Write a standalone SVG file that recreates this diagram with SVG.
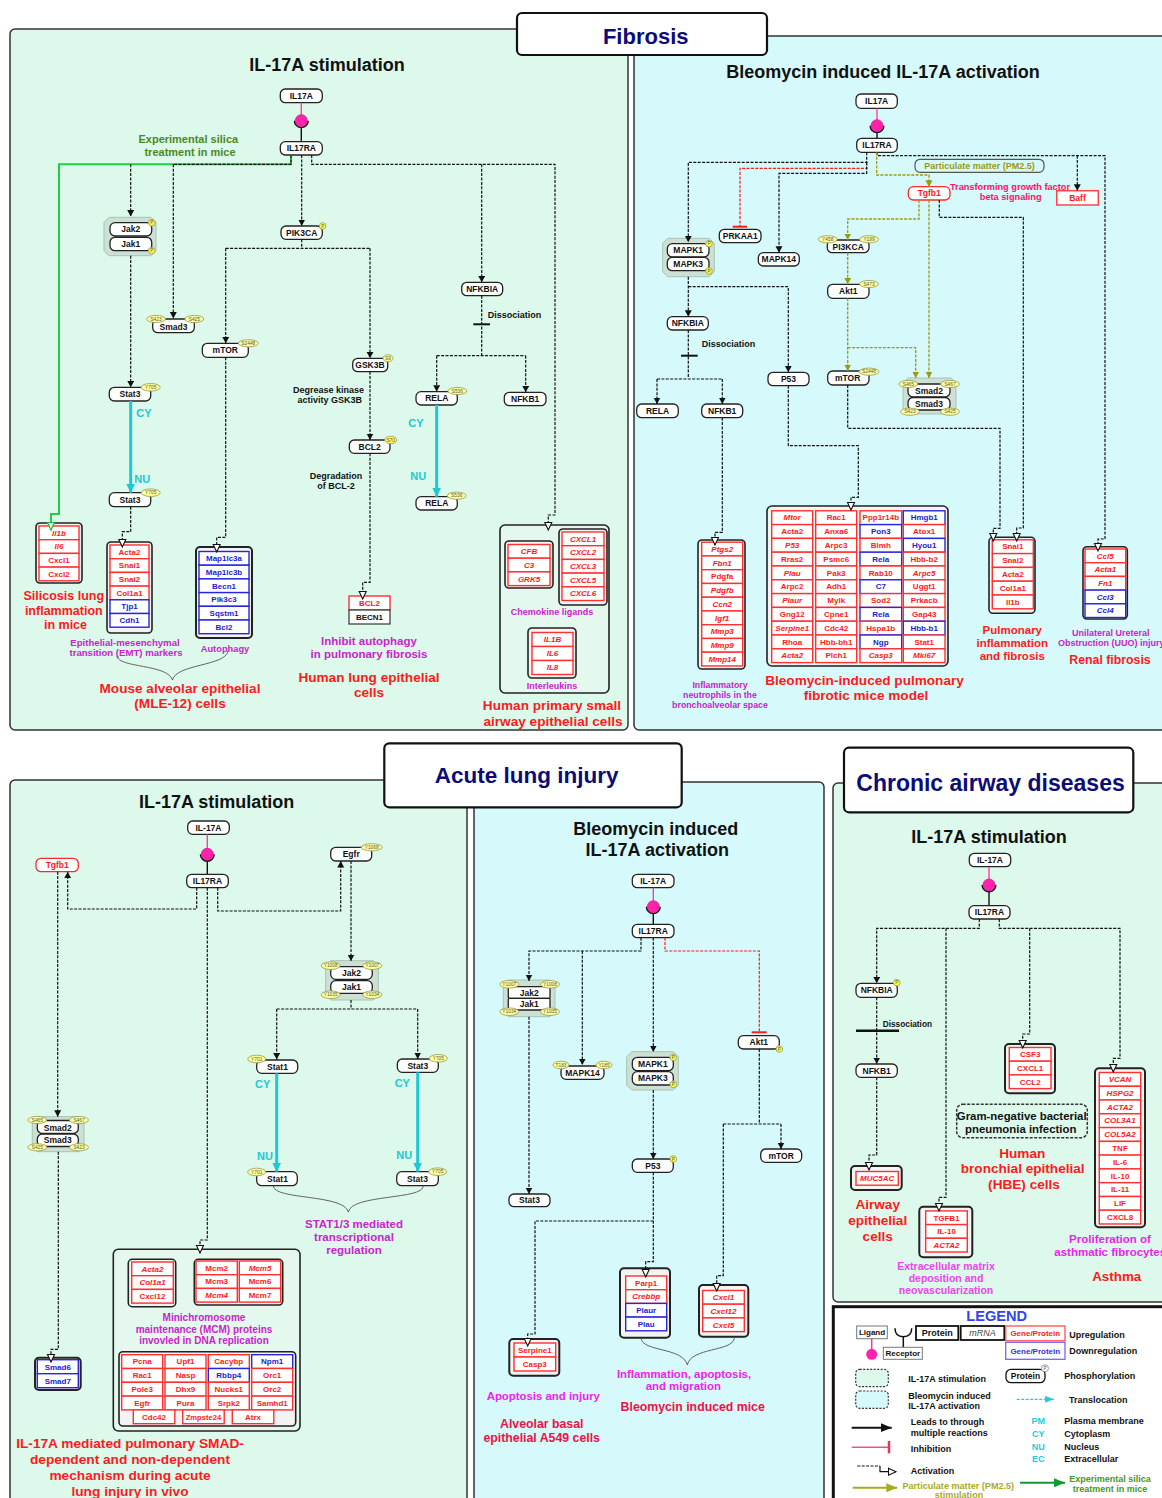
<svg xmlns="http://www.w3.org/2000/svg" width="1162" height="1498" viewBox="0 0 1162 1498">
<style>
text{font-family:"Liberation Sans",Arial,Helvetica,sans-serif;font-weight:bold}
.pg{fill:#dcf9ec;stroke:#333;stroke-width:1.5}
.pc{fill:#d6f9fc;stroke:#333;stroke-width:1.5}
.tb{fill:#fff;stroke:#111;stroke-width:2.2}
.n{fill:#fff;stroke:#222;stroke-width:1.3}
.nr{fill:#fff;stroke:#ff2a2a;stroke-width:1.3}
.nt{font-size:8.5px;text-anchor:middle;fill:#111}
.ntr{font-size:8.5px;text-anchor:middle;fill:#ff1a1a}
.ob{fill:#f3f3f3;stroke:#222;stroke-width:1.6}
.rr{fill:#fff;stroke:#ff3030;stroke-width:1.4}
.bb{fill:#fff;stroke:#2626dd;stroke-width:1.4}
.kr{fill:#fff;stroke:#333;stroke-width:1.2}
.rt{font-size:8px;text-anchor:middle;fill:#ff1a1a}
.bt{font-size:8px;text-anchor:middle;fill:#1c1cd0}
.kt{font-size:8px;text-anchor:middle;fill:#111}
.i{font-style:italic}
.ph{fill:#ffff99;stroke:#999955;stroke-width:0.8}
.ot{font-size:4.8px;text-anchor:middle;fill:#555;font-weight:normal}
.pp{fill:#ffff44;stroke:#999955;stroke-width:0.8}
.pt{font-size:4.6px;text-anchor:middle;fill:#555;font-weight:normal}
.cx{fill:#cde0d4;stroke:#a9c2b2;stroke-width:1}
.d{fill:none;stroke:#111;stroke-width:1.2;stroke-dasharray:3 1.4}
.dr{fill:none;stroke:#ff1a1a;stroke-width:1.2;stroke-dasharray:3 1.4}
.dol{fill:none;stroke:#9a9a10;stroke-width:1.3;stroke-dasharray:3 1.4}
.cy{fill:none;stroke:#1ec8d2;stroke-width:3}
.gr{fill:none;stroke:#22cc44;stroke-width:2}
.bar{stroke:#111;stroke-width:2}
.bc{fill:none;stroke:#555;stroke-width:0.9}
.ttl{font-size:18px;text-anchor:middle;fill:#111}
.hd{font-size:22.5px;text-anchor:middle;fill:#0c0c78}
.red{fill:#ff1a1a;text-anchor:middle}
.mg{fill:#cc22cc;text-anchor:middle}
.cyt{fill:#22c8d0;font-size:11px;text-anchor:middle}
.an{font-size:9px;fill:#111}
.lg{font-size:9px;fill:#111}
.mag{fill:#ff22aa;stroke:#dd1188;stroke-width:0.8}
.ml{stroke:#ff3399;stroke-width:1.3}
.kl{stroke:#111;stroke-width:1.4}
.cup{fill:none;stroke:#111;stroke-width:1.6}
</style>
<defs>
<marker id="ab" markerUnits="userSpaceOnUse" markerWidth="8" markerHeight="8" refX="6.5" refY="3.5" orient="auto"><path d="M0,0 L6.5,3.5 L0,7 z" fill="#111"/></marker>
<marker id="aa" markerUnits="userSpaceOnUse" markerWidth="10" markerHeight="10" refX="8.5" refY="4.5" orient="auto"><path d="M1,1 L8.5,4.5 L1,8 z" fill="#fff" stroke="#111" stroke-width="1.1"/></marker>
<marker id="ag" markerUnits="userSpaceOnUse" markerWidth="10" markerHeight="10" refX="8.5" refY="4.5" orient="auto"><path d="M1,1 L8.5,4.5 L1,8 z" fill="#dcf9ec" stroke="#22bb44" stroke-width="1.2"/></marker>
<marker id="ac" markerUnits="userSpaceOnUse" markerWidth="10" markerHeight="10" refX="9" refY="4.5" orient="auto"><path d="M0,0 L9,4.5 L0,9 z" fill="#1ec8d2"/></marker>
<marker id="ao" markerUnits="userSpaceOnUse" markerWidth="8" markerHeight="8" refX="6.5" refY="3.5" orient="auto"><path d="M0,0 L6.5,3.5 L0,7 z" fill="#9a9a10"/></marker>
<marker id="alk" markerUnits="userSpaceOnUse" markerWidth="12" markerHeight="10" refX="11" refY="4.5" orient="auto"><path d="M0,0 L11,4.5 L0,9 z" fill="#111"/></marker>
<marker id="alo" markerUnits="userSpaceOnUse" markerWidth="12" markerHeight="10" refX="11" refY="4.5" orient="auto"><path d="M0,0 L11,4.5 L0,9 z" fill="#aaaa22"/></marker>
<marker id="alg" markerUnits="userSpaceOnUse" markerWidth="12" markerHeight="10" refX="11" refY="4.5" orient="auto"><path d="M0,0 L11,4.5 L0,9 z" fill="#119933"/></marker>
<marker id="alc" markerUnits="userSpaceOnUse" markerWidth="10" markerHeight="8" refX="9" refY="3.5" orient="auto"><path d="M0,0 L9,3.5 L0,7 z" fill="#22ccdd"/></marker>
</defs>

<rect width="1162" height="1498" fill="#fff"/>

<!-- PANELS -->
<g id="panels">
<rect class="pg" x="10" y="29" width="618" height="701" rx="5"/>
<rect class="pc" x="634" y="36" width="540" height="694" rx="5"/>
<rect class="pg" x="10" y="780" width="457" height="740" rx="5"/>
<rect class="pc" x="474" y="782" width="350" height="740" rx="5"/>
<rect class="pg" x="833" y="783" width="340" height="519" rx="5"/>
</g>

<g id="title-fibrosis"><rect class="tb" x="517" y="13" width="250" height="42" rx="5"/><text class="hd" x="645.7" y="44" style="font-size:22px">Fibrosis</text></g>
<g id="title-acute"><rect class="tb" x="384.3" y="743.3" width="297.4" height="64" rx="5"/><text class="hd" x="526.7" y="783">Acute lung injury</text></g>
<g id="title-chronic"><rect class="tb" x="844" y="747.7" width="289.3" height="64.6" rx="5"/><text class="hd" x="990.5" y="791" style="font-size:23px">Chronic airway diseases</text></g>

<text class="ttl" x="327" y="70.5">IL-17A stimulation</text>
<text class="ttl" x="883" y="77.5">Bleomycin induced IL-17A activation</text>
<text class="ttl" x="216.7" y="808">IL-17A stimulation</text>
<text class="ttl" x="655.7" y="835">Bleomycin induced</text>
<text class="ttl" x="657.3" y="855.5">IL-17A activation</text>
<text class="ttl" x="989" y="842.5">IL-17A stimulation</text>

<!-- ================= PANEL 1 NODES ================= -->
<g id="p1-il17a"><rect class="n" x="280.3" y="89" width="42" height="13.7" rx="5"/><text class="nt" x="301.3" y="98.8">IL17A</text></g>
<g id="p1-receptor"><line class="ml" x1="301.3" y1="102.7" x2="301.3" y2="115"/><path class="cup" d="M294.5,120.7 A6.8,6.8 0 0 0 308.1,120.7"/><circle class="mag" cx="301.3" cy="120.7" r="6"/><line class="kl" x1="301.3" y1="127.5" x2="301.3" y2="141.7"/></g>
<g id="p1-il17ra"><rect class="n" x="280.3" y="141.7" width="42" height="13.3" rx="5"/><text class="nt" x="301.3" y="151.4">IL17RA</text></g>
<g id="p1-jak"><polygon class="cx" points="109,217.3 151,217.3 156,222.3 156,250.7 151,255.7 109,255.7 104,250.7 104,222.3"/><rect class="n" x="110" y="222.7" width="41.7" height="13.3" rx="5"/><text class="nt" x="130.8" y="232.4">Jak2</text><rect class="n" x="110" y="237.3" width="41.7" height="13.4" rx="5"/><text class="nt" x="130.8" y="247">Jak1</text><circle class="pp" cx="151.7" cy="222.7" r="3.3"/><text class="pt" x="151.7" y="224.3">P</text><circle class="pp" cx="151.7" cy="250.7" r="3.3"/><text class="pt" x="151.7" y="252.3">P</text></g>
<g id="p1-smad3"><rect class="n" x="152.7" y="319" width="41.6" height="13.7" rx="5"/><text class="nt" x="173.5" y="329.5">Smad3</text><ellipse class="ph" cx="156" cy="319" rx="9.5" ry="3.6"/><text class="ot" x="156" y="320.7">S423</text><ellipse class="ph" cx="194.3" cy="319" rx="9.5" ry="3.6"/><text class="ot" x="194.3" y="320.7">S425</text></g>
<g id="p1-pik3ca"><rect class="n" x="281" y="226" width="41.3" height="13.3" rx="5"/><text class="nt" x="301.7" y="235.7">PIK3CA</text><circle class="pp" cx="322.7" cy="226" r="3.3"/><text class="pt" x="322.7" y="227.6">P</text></g>
<g id="p1-mtor"><rect class="n" x="202.3" y="343.3" width="46" height="14" rx="5"/><text class="nt" x="225.3" y="353.3">mTOR</text><ellipse class="ph" cx="248.3" cy="343.3" rx="10" ry="3.6"/><text class="ot" x="248.3" y="345">S2448</text></g>
<g id="p1-gsk3b"><rect class="n" x="352.7" y="358.3" width="35" height="13.4" rx="5"/><text class="nt" x="370" y="368">GSK3B</text><ellipse class="ph" cx="388" cy="358.3" rx="5" ry="3.6"/><text class="ot" x="388" y="360">S9</text></g>
<g id="p1-stat3-cy"><rect class="n" x="109.3" y="387.3" width="41.4" height="13.7" rx="5"/><text class="nt" x="130" y="397.2">Stat3</text><ellipse class="ph" cx="150.7" cy="387.3" rx="9.5" ry="3.8"/><text class="ot" x="150.7" y="389">Y705</text></g>
<g id="p1-stat3-nu"><rect class="n" x="109.3" y="492.7" width="41.4" height="14" rx="5"/><text class="nt" x="130" y="502.7">Stat3</text><ellipse class="ph" cx="150.7" cy="492.7" rx="9.5" ry="3.8"/><text class="ot" x="150.7" y="494.4">Y705</text></g>
<g id="p1-bcl2"><rect class="n" x="349.3" y="440" width="40.7" height="13.3" rx="5"/><text class="nt" x="369.7" y="449.7">BCL2</text><ellipse cx="390.7" cy="440" rx="6" ry="3.8" fill="#ffff55" stroke="#999955" stroke-width="0.8"/><text class="ot" x="390.7" y="441.7">S70</text></g>
<g id="p1-nfkbia"><rect class="n" x="461.7" y="282.3" width="41" height="13.4" rx="5"/><text class="nt" x="482.2" y="292">NFKBIA</text></g>
<g id="p1-rela-cy"><rect class="n" x="416" y="391.7" width="41.3" height="13.3" rx="5"/><text class="nt" x="436.7" y="401.4">RELA</text><ellipse class="ph" cx="457.3" cy="391" rx="9.5" ry="3.6"/><text class="ot" x="457.3" y="392.7">S536</text></g>
<g id="p1-rela-nu"><rect class="n" x="416" y="496.7" width="41.3" height="13.3" rx="5"/><text class="nt" x="436.7" y="506.4">RELA</text><ellipse class="ph" cx="456.7" cy="495.7" rx="9.5" ry="3.6"/><text class="ot" x="456.7" y="497.4">S536</text></g>
<g id="p1-nfkb1"><rect class="n" x="504.3" y="392.3" width="41.7" height="13.4" rx="5"/><text class="nt" x="525.2" y="402">NFKB1</text></g>

<g id="p1-il1b-box"><rect class="ob" x="36" y="523" width="46" height="60" rx="4"/>
<rect class="rr" x="39" y="526" width="40" height="13.7"/><text class="rt i" x="59" y="535.6">Il1b</text>
<rect class="rr" x="39" y="539.7" width="40" height="13.7"/><text class="rt i" x="59" y="549.3">Il6</text>
<rect class="rr" x="39" y="553.4" width="40" height="13.7"/><text class="rt" x="59" y="563">Cxcl1</text>
<rect class="rr" x="39" y="567.1" width="40" height="13.7"/><text class="rt" x="59" y="576.7">Cxcl2</text></g>
<g id="p1-emt-box"><rect class="ob" x="107" y="542" width="45" height="91" rx="4"/>
<rect class="rr" x="110" y="545" width="39" height="13.7"/><text class="rt" x="129.5" y="554.6">Acta2</text>
<rect class="rr" x="110" y="558.7" width="39" height="13.7"/><text class="rt" x="129.5" y="568.3">Snai1</text>
<rect class="rr" x="110" y="572.4" width="39" height="13.7"/><text class="rt" x="129.5" y="582">Snai2</text>
<rect class="rr" x="110" y="586.1" width="39" height="13.7"/><text class="rt" x="129.5" y="595.7">Col1a1</text>
<rect class="bb" x="110" y="599.8" width="39" height="13.7"/><text class="bt" x="129.5" y="609.4">Tjp1</text>
<rect class="bb" x="110" y="613.5" width="39" height="13.7"/><text class="bt" x="129.5" y="623.1">Cdh1</text></g>
<g id="p1-autophagy-box"><rect class="ob" x="196" y="547" width="56" height="91" rx="4" style="stroke-width:2"/>
<rect class="bb" x="199" y="551.5" width="50" height="13.7"/><text class="bt" x="224" y="561.1">Map1lc3a</text>
<rect class="bb" x="199" y="565.2" width="50" height="13.7"/><text class="bt" x="224" y="574.8">Map1lc3b</text>
<rect class="bb" x="199" y="578.9" width="50" height="13.7"/><text class="bt" x="224" y="588.5">Becn1</text>
<rect class="bb" x="199" y="592.6" width="50" height="13.7"/><text class="bt" x="224" y="602.2">Pik3c3</text>
<rect class="bb" x="199" y="606.3" width="50" height="13.7"/><text class="bt" x="224" y="615.9">Sqstm1</text>
<rect class="bb" x="199" y="620" width="50" height="13.7"/><text class="bt" x="224" y="629.6">Bcl2</text></g>
<g id="p1-bcl2-becn1"><rect class="rr" x="349" y="596" width="41" height="14"/><text class="rt" x="369.5" y="605.8">BCL2</text><rect class="kr" x="349" y="610" width="41" height="14"/><text class="kt" x="369.5" y="619.8">BECN1</text></g>
<g id="p1-sae-box"><rect class="ob" x="500" y="525" width="109" height="168" rx="5" style="fill:#e4f8ee"/>
<rect class="ob" x="505" y="541" width="48" height="47" rx="4"/>
<rect class="rr" x="508" y="544.5" width="42" height="13.7"/><text class="rt i" x="529" y="554.1">CFB</text>
<rect class="rr" x="508" y="558.2" width="42" height="13.7"/><text class="rt i" x="529" y="567.8">C3</text>
<rect class="rr" x="508" y="571.9" width="42" height="13.7"/><text class="rt i" x="529" y="581.5">GRK5</text>
<rect class="ob" x="559" y="529" width="48" height="76" rx="4"/>
<rect class="rr" x="562" y="532" width="42" height="13.7"/><text class="rt i" x="583" y="541.6">CXCL1</text>
<rect class="rr" x="562" y="545.7" width="42" height="13.7"/><text class="rt i" x="583" y="555.3">CXCL2</text>
<rect class="rr" x="562" y="559.4" width="42" height="13.7"/><text class="rt i" x="583" y="569">CXCL3</text>
<rect class="rr" x="562" y="573.1" width="42" height="13.7"/><text class="rt i" x="583" y="582.7">CXCL5</text>
<rect class="rr" x="562" y="586.8" width="42" height="13.7"/><text class="rt i" x="583" y="596.4">CXCL6</text>
<text class="mg" x="552" y="614.5" style="font-size:9px">Chemokine ligands</text>
<rect class="ob" x="528" y="628" width="48" height="50" rx="4"/>
<rect class="rr" x="532" y="632.5" width="41" height="14"/><text class="rt i" x="552.5" y="642.3">IL1B</text>
<rect class="rr" x="532" y="646.5" width="41" height="14"/><text class="rt i" x="552.5" y="656.3">IL6</text>
<rect class="rr" x="532" y="660.5" width="41" height="14"/><text class="rt i" x="552.5" y="670.3">IL8</text>
<text class="mg" x="552" y="688.5" style="font-size:9px">Interleukins</text></g>

<!-- panel 1 labels -->
<g id="p1-labels">
<text x="188.3" y="143" style="font-size:11px;fill:#4a8a1a;text-anchor:middle">Experimental silica</text>
<text x="190" y="155.5" style="font-size:11px;fill:#4a8a1a;text-anchor:middle">treatment in mice</text>
<text class="an" x="328.5" y="393.3" text-anchor="middle">Degrease kinase</text>
<text class="an" x="329.7" y="403" text-anchor="middle">activity GSK3B</text>
<text class="an" x="336" y="478.5" text-anchor="middle">Degradation</text>
<text class="an" x="336" y="488.5" text-anchor="middle">of BCL-2</text>
<text class="an" x="487.7" y="317.5">Dissociation</text>
<text class="cyt" x="144" y="417">CY</text><text class="cyt" x="142.3" y="483">NU</text>
<text class="cyt" x="416" y="426.5">CY</text><text class="cyt" x="418.3" y="480">NU</text>
<text class="red" x="63.8" y="600" style="font-size:12.5px">Silicosis lung</text>
<text class="red" x="63.8" y="614.5" style="font-size:12.5px">inflammation</text>
<text class="red" x="65.5" y="628.5" style="font-size:12.5px">in mice</text>
<text class="mg" x="125" y="645.5" style="font-size:9.6px">Epithelial-mesenchymal</text>
<text class="mg" x="126" y="655.5" style="font-size:9.6px">transition (EMT) markers</text>
<text class="mg" x="225" y="652" style="font-size:9.3px">Autophagy</text>
<path class="bc" d="M117,656 C118,668 168,664 172.5,680 C176,664 226,666 228,651"/>
<text class="red" x="180" y="692.5" style="font-size:13.6px">Mouse alveolar epithelial</text>
<text class="red" x="180" y="708" style="font-size:13.6px">(MLE-12) cells</text>
<text class="mg" x="369" y="645" style="font-size:11.5px">Inhibit autophagy</text>
<text class="mg" x="369" y="658" style="font-size:11.5px">in pulmonary fibrosis</text>
<text class="red" x="369" y="681.5" style="font-size:13.6px">Human lung epithelial</text>
<text class="red" x="369" y="697" style="font-size:13.6px">cells</text>
<text class="red" x="552" y="710" style="font-size:13.6px">Human primary small</text>
<text class="red" x="553" y="726" style="font-size:13.6px">airway epithelial cells</text>
</g>

<!-- ================= PANEL 2 NODES ================= -->
<g id="p2-il17a"><rect class="n" x="856" y="94" width="41.3" height="14.3" rx="5"/><text class="nt" x="876.7" y="104.2">IL17A</text></g>
<g id="p2-receptor"><line class="ml" x1="877" y1="108.3" x2="877" y2="119.7"/><path class="cup" d="M870.2,125.7 A6.8,6.8 0 0 0 883.8,125.7"/><circle class="mag" cx="877" cy="125.7" r="6"/><line class="kl" x1="877" y1="132.5" x2="877" y2="138.3"/></g>
<g id="p2-il17ra"><rect class="n" x="856.7" y="138.3" width="40.6" height="14" rx="5"/><text class="nt" x="877" y="148.3">IL17RA</text></g>
<g id="p2-prkaa1"><rect class="n" x="719.3" y="229.3" width="41.7" height="13.4" rx="5"/><text class="nt" x="740.2" y="239">PRKAA1</text></g>
<g id="p2-mapk14"><rect class="n" x="758.3" y="252.7" width="41" height="13.3" rx="5"/><text class="nt" x="778.8" y="262.4">MAPK14</text></g>
<g id="p2-mapk"><polygon class="cx" points="667.7,238.3 709.3,238.3 714.3,243.3 714.3,271.7 709.3,276.7 667.7,276.7 662.7,271.7 662.7,243.3"/><rect class="n" x="667.3" y="243.7" width="41.7" height="13.3" rx="5"/><text class="nt" x="688.2" y="253.4">MAPK1</text><rect class="n" x="667.3" y="257.3" width="41.7" height="13.4" rx="5"/><text class="nt" x="688.2" y="267">MAPK3</text><circle class="pp" cx="709" cy="243.7" r="3.3"/><text class="pt" x="709" y="245.3">P</text><circle class="pp" cx="709" cy="271" r="3.3"/><text class="pt" x="709" y="272.6">P</text></g>
<g id="p2-nfkbia"><rect class="n" x="667.3" y="316.7" width="41" height="13.3" rx="5"/><text class="nt" x="687.8" y="326.4">NFKBIA</text></g>
<g id="p2-rela"><rect class="n" x="636.7" y="404" width="41.6" height="13.7" rx="5"/><text class="nt" x="657.5" y="413.8">RELA</text></g>
<g id="p2-nfkb1"><rect class="n" x="701.7" y="404" width="41" height="13.7" rx="5"/><text class="nt" x="722.2" y="413.8">NFKB1</text></g>
<g id="p2-p53"><rect class="n" x="768" y="372.3" width="41" height="13.4" rx="5"/><text class="nt" x="788.5" y="382">P53</text></g>
<g id="p2-pm25"><rect x="915" y="159.3" width="129" height="13" rx="5" fill="none" stroke="#555" stroke-width="1.2"/><text x="979.5" y="169" style="font-size:9px;fill:#9a9a10;text-anchor:middle">Particulate matter (PM2.5)</text></g>
<g id="p2-tgfb1"><rect class="nr" x="908.3" y="186.7" width="41.7" height="13.3" rx="5"/><text class="ntr" x="929.2" y="196.4">Tgfb1</text></g>
<g id="p2-baff"><rect x="1056.7" y="190.7" width="41.6" height="14.3" fill="#fff" stroke="#ff4444" stroke-width="1.5"/><text class="ntr" x="1077.5" y="201">Baff</text></g>
<g id="p2-pi3kca"><rect class="n" x="827.3" y="240" width="41.7" height="12.7" rx="5"/><text class="nt" x="848.2" y="249.6">PI3KCA</text><ellipse class="ph" cx="827.7" cy="239.3" rx="9.5" ry="3.6"/><text class="ot" x="827.7" y="241">Y458</text><ellipse class="ph" cx="869" cy="239.3" rx="9.5" ry="3.6"/><text class="ot" x="869" y="241">Y199</text></g>
<g id="p2-akt1"><rect class="n" x="827.7" y="284.3" width="41.3" height="14" rx="5"/><text class="nt" x="848.3" y="294.3">Akt1</text><ellipse class="ph" cx="869" cy="284" rx="9.5" ry="3.6"/><text class="ot" x="869" y="285.7">S473</text></g>
<g id="p2-mtor"><rect class="n" x="827.7" y="371" width="41.3" height="14" rx="5"/><text class="nt" x="847.7" y="381">mTOR</text><ellipse class="ph" cx="869" cy="371.7" rx="10" ry="3.6"/><text class="ot" x="869" y="373.4">S2448</text></g>
<g id="p2-smad"><polygon class="cx" points="908,378 951,378 956,383 956,409 951,414 908,414 903,409 903,383"/><rect class="n" x="908" y="384" width="42" height="13" rx="5"/><text class="nt" x="929" y="394">Smad2</text><rect class="n" x="908" y="397.5" width="42" height="12.5" rx="5"/><text class="nt" x="929" y="407">Smad3</text><ellipse class="ph" cx="908.3" cy="384" rx="9.5" ry="3.6"/><text class="ot" x="908.3" y="385.7">S465</text><ellipse class="ph" cx="950" cy="384" rx="9.5" ry="3.6"/><text class="ot" x="950" y="385.7">S467</text><ellipse class="ph" cx="910" cy="411.7" rx="9.5" ry="3.6"/><text class="ot" x="910" y="413.4">S423</text><ellipse class="ph" cx="950" cy="411.7" rx="9.5" ry="3.6"/><text class="ot" x="950" y="413.4">S425</text></g>

<g id="p2-neut-box"><rect class="ob" x="698" y="540" width="47" height="129" rx="4"/>
<rect class="rr" x="701.7" y="542.2" width="41" height="13.75"/><text class="rt i" x="722.2" y="551.9">Ptgs2</text>
<rect class="rr" x="701.7" y="555.95" width="41" height="13.75"/><text class="rt i" x="722.2" y="565.6">Fbn1</text>
<rect class="rr" x="701.7" y="569.7" width="41" height="13.75"/><text class="rt" x="722.2" y="579.4">Pdgfa</text>
<rect class="rr" x="701.7" y="583.45" width="41" height="13.75"/><text class="rt i" x="722.2" y="593.1">Pdgfb</text>
<rect class="rr" x="701.7" y="597.2" width="41" height="13.75"/><text class="rt i" x="722.2" y="606.9">Ccn2</text>
<rect class="rr" x="701.7" y="610.95" width="41" height="13.75"/><text class="rt i" x="722.2" y="620.6">Igf1</text>
<rect class="rr" x="701.7" y="624.7" width="41" height="13.75"/><text class="rt i" x="722.2" y="634.4">Mmp3</text>
<rect class="rr" x="701.7" y="638.45" width="41" height="13.75"/><text class="rt i" x="722.2" y="648.1">Mmp9</text>
<rect class="rr" x="701.7" y="652.2" width="41" height="13.75"/><text class="rt i" x="722.2" y="661.9">Mmp14</text></g>

<g id="p2-table"><rect class="ob" x="767" y="506" width="181" height="160" rx="5"/>
<rect class="rr" x="771.7" y="510.8" width="41" height="13.8"/><text class="rt i" x="792.2" y="520.4">Mtor</text>
<rect class="rr" x="771.7" y="524.6" width="41" height="13.8"/><text class="rt" x="792.2" y="534.2">Acta2</text>
<rect class="rr" x="771.7" y="538.4" width="41" height="13.8"/><text class="rt i" x="792.2" y="548">P53</text>
<rect class="rr" x="771.7" y="552.2" width="41" height="13.8"/><text class="rt" x="792.2" y="561.8">Rras2</text>
<rect class="rr" x="771.7" y="566" width="41" height="13.8"/><text class="rt i" x="792.2" y="575.6">Plau</text>
<rect class="rr" x="771.7" y="579.8" width="41" height="13.8"/><text class="rt" x="792.2" y="589.4">Arpc2</text>
<rect class="rr" x="771.7" y="593.6" width="41" height="13.8"/><text class="rt i" x="792.2" y="603.2">Plaur</text>
<rect class="rr" x="771.7" y="607.4" width="41" height="13.8"/><text class="rt" x="792.2" y="617">Gng12</text>
<rect class="rr" x="771.7" y="621.2" width="41" height="13.8"/><text class="rt i" x="792.2" y="630.8">Serpine1</text>
<rect class="rr" x="771.7" y="635" width="41" height="13.8"/><text class="rt" x="792.2" y="644.6">Rhoa</text>
<rect class="rr" x="771.7" y="648.8" width="41" height="13.8"/><text class="rt i" x="792.2" y="658.4">Acta2</text>
<rect class="rr" x="815.7" y="510.8" width="41" height="13.8"/><text class="rt" x="836.2" y="520.4">Rac1</text>
<rect class="rr" x="815.7" y="524.6" width="41" height="13.8"/><text class="rt" x="836.2" y="534.2">Anxa6</text>
<rect class="rr" x="815.7" y="538.4" width="41" height="13.8"/><text class="rt" x="836.2" y="548">Arpc3</text>
<rect class="rr" x="815.7" y="552.2" width="41" height="13.8"/><text class="rt" x="836.2" y="561.8">Psmc6</text>
<rect class="rr" x="815.7" y="566" width="41" height="13.8"/><text class="rt" x="836.2" y="575.6">Pak3</text>
<rect class="rr" x="815.7" y="579.8" width="41" height="13.8"/><text class="rt" x="836.2" y="589.4">Adh1</text>
<rect class="rr" x="815.7" y="593.6" width="41" height="13.8"/><text class="rt" x="836.2" y="603.2">Mylk</text>
<rect class="rr" x="815.7" y="607.4" width="41" height="13.8"/><text class="rt" x="836.2" y="617">Cpne1</text>
<rect class="rr" x="815.7" y="621.2" width="41" height="13.8"/><text class="rt" x="836.2" y="630.8">Cdc42</text>
<rect class="rr" x="815.7" y="635" width="41" height="13.8"/><text class="rt" x="836.2" y="644.6">Hbb-bh1</text>
<rect class="rr" x="815.7" y="648.8" width="41" height="13.8"/><text class="rt" x="836.2" y="658.4">Plch1</text>
<rect class="rr" x="860" y="510.8" width="41.7" height="13.8"/><text class="rt" x="880.8" y="520.4">Ppp1r14b</text>
<rect class="bb" x="860" y="524.6" width="41.7" height="13.8"/><text class="bt" x="880.8" y="534.2">Pon3</text>
<rect class="rr" x="860" y="538.4" width="41.7" height="13.8"/><text class="rt" x="880.8" y="548">Blmh</text>
<rect class="bb" x="860" y="552.2" width="41.7" height="13.8"/><text class="bt" x="880.8" y="561.8">Rela</text>
<rect class="rr" x="860" y="566" width="41.7" height="13.8"/><text class="rt" x="880.8" y="575.6">Rab10</text>
<rect class="bb" x="860" y="579.8" width="41.7" height="13.8"/><text class="bt" x="880.8" y="589.4">C7</text>
<rect class="rr" x="860" y="593.6" width="41.7" height="13.8"/><text class="rt" x="880.8" y="603.2">Sod2</text>
<rect class="bb" x="860" y="607.4" width="41.7" height="13.8"/><text class="bt" x="880.8" y="617">Rela</text>
<rect class="rr" x="860" y="621.2" width="41.7" height="13.8"/><text class="rt" x="880.8" y="630.8">Hspa1b</text>
<rect class="bb" x="860" y="635" width="41.7" height="13.8"/><text class="bt" x="880.8" y="644.6">Ngp</text>
<rect class="rr" x="860" y="648.8" width="41.7" height="13.8"/><text class="rt i" x="880.8" y="658.4">Casp3</text>
<rect class="bb" x="903.3" y="510.8" width="41.7" height="13.8"/><text class="bt" x="924.2" y="520.4">Hmgb1</text>
<rect class="rr" x="903.3" y="524.6" width="41.7" height="13.8"/><text class="rt" x="924.2" y="534.2">Atox1</text>
<rect class="bb" x="903.3" y="538.4" width="41.7" height="13.8"/><text class="bt" x="924.2" y="548">Hyou1</text>
<rect class="rr" x="903.3" y="552.2" width="41.7" height="13.8"/><text class="rt" x="924.2" y="561.8">Hbb-b2</text>
<rect class="rr" x="903.3" y="566" width="41.7" height="13.8"/><text class="rt i" x="924.2" y="575.6">Arpc5</text>
<rect class="rr" x="903.3" y="579.8" width="41.7" height="13.8"/><text class="rt" x="924.2" y="589.4">Uggt1</text>
<rect class="rr" x="903.3" y="593.6" width="41.7" height="13.8"/><text class="rt" x="924.2" y="603.2">Prkacb</text>
<rect class="rr" x="903.3" y="607.4" width="41.7" height="13.8"/><text class="rt" x="924.2" y="617">Gap43</text>
<rect class="bb" x="903.3" y="621.2" width="41.7" height="13.8"/><text class="bt" x="924.2" y="630.8">Hbb-b1</text>
<rect class="rr" x="903.3" y="635" width="41.7" height="13.8"/><text class="rt" x="924.2" y="644.6">Stat1</text>
<rect class="rr" x="903.3" y="648.8" width="41.7" height="13.8"/><text class="rt i" x="924.2" y="658.4">Mki67</text></g>

<g id="p2-snai-box"><rect class="ob" x="989" y="537.3" width="46" height="76" rx="4"/>
<rect class="rr" x="992.3" y="539.8" width="41" height="13.8"/><text class="rt" x="1012.8" y="549.4">Snai1</text>
<rect class="rr" x="992.3" y="553.6" width="41" height="13.8"/><text class="rt" x="1012.8" y="563.2">Snai2</text>
<rect class="rr" x="992.3" y="567.4" width="41" height="13.8"/><text class="rt" x="1012.8" y="577">Acta2</text>
<rect class="rr" x="992.3" y="581.2" width="41" height="13.8"/><text class="rt" x="1012.8" y="590.8">Col1a1</text>
<rect class="rr" x="992.3" y="595" width="41" height="13.8"/><text class="rt" x="1012.8" y="604.6">Il1b</text></g>
<g id="p2-ccl5-box"><rect class="ob" x="1083" y="546.7" width="44.3" height="72.3" rx="4"/>
<rect class="rr" x="1085" y="549" width="40.7" height="13.7"/><text class="rt i" x="1105.3" y="558.6">Ccl5</text>
<rect class="rr" x="1085" y="562.7" width="40.7" height="13.7"/><text class="rt i" x="1105.3" y="572.3">Acta1</text>
<rect class="rr" x="1085" y="576.4" width="40.7" height="13.7"/><text class="rt i" x="1105.3" y="586">Fn1</text>
<rect class="bb" x="1085" y="590.1" width="40.7" height="13.7"/><text class="bt i" x="1105.3" y="599.7">Ccl3</text>
<rect class="bb" x="1085" y="603.8" width="40.7" height="13.7"/><text class="bt i" x="1105.3" y="613.4">Ccl4</text></g>

<g id="p2-labels">
<text class="an" x="701.7" y="346.5">Dissociation</text>
<text x="1010" y="189.5" style="font-size:9.2px;fill:#ff1166;text-anchor:middle">Transforming growth factor</text>
<text x="1010.7" y="200" style="font-size:9.2px;fill:#ff1166;text-anchor:middle">beta signaling</text>
<text class="mg" x="720" y="687.5" style="font-size:8.8px">Inflammatory</text>
<text class="mg" x="720" y="697.5" style="font-size:8.8px">neutrophils in the</text>
<text class="mg" x="720" y="708" style="font-size:8.8px">bronchoalveolar space</text>
<text class="red" x="864.5" y="684.5" style="font-size:13.6px">Bleomycin-induced pulmonary</text>
<text class="red" x="866" y="700" style="font-size:13.6px">fibrotic mice model</text>
<text class="red" x="1012.3" y="633.5" style="font-size:11.5px">Pulmonary</text>
<text class="red" x="1012.3" y="647" style="font-size:11.5px">inflammation</text>
<text class="red" x="1012.3" y="659.5" style="font-size:11.5px">and fibrosis</text>
<text class="mg" x="1110.7" y="636" style="font-size:9px">Unilateral Ureteral</text>
<text x="1058" y="646" style="font-size:9px;fill:#cc22cc">Obstruction (UUO) injury</text>
<text class="red" x="1110" y="663.5" style="font-size:12.3px">Renal fibrosis</text>
</g>

<!-- ================= PANEL 3 NODES ================= -->
<g id="p3-il17a"><rect class="n" x="187.7" y="821" width="41.6" height="13.3" rx="5"/><text class="nt" x="208.5" y="830.7">IL-17A</text></g>
<g id="p3-receptor"><line class="ml" x1="207.3" y1="834.3" x2="207.3" y2="848.3"/><path class="cup" d="M200.5,854.3 A6.8,6.8 0 0 0 214.1,854.3"/><circle class="mag" cx="207.3" cy="854.3" r="6"/><line class="kl" x1="207.3" y1="861" x2="207.3" y2="874.3"/></g>
<g id="p3-il17ra"><rect class="n" x="186.7" y="874.3" width="41.6" height="13.4" rx="5"/><text class="nt" x="207.5" y="884">IL17RA</text></g>
<g id="p3-tgfb1"><rect class="nr" x="36" y="858.3" width="42.3" height="13.4" rx="5"/><text class="ntr" x="57.2" y="868">Tgfb1</text></g>
<g id="p3-egfr"><rect class="n" x="330.7" y="847.3" width="41" height="13.7" rx="5"/><text class="nt" x="351.2" y="857.1">Egfr</text><ellipse class="ph" cx="371.7" cy="847.3" rx="10.5" ry="3.6"/><text class="ot" x="371.7" y="849">Y1068</text></g>
<g id="p3-jak"><polygon class="cx" points="330.7,960.7 373.3,960.7 378.3,965.7 378.3,995 373.3,1000 330.7,1000 325.7,995 325.7,965.7"/><rect class="n" x="330.7" y="966.7" width="41.6" height="12.6" rx="5"/><text class="nt" x="351.5" y="976.2">Jak2</text><rect class="n" x="330.7" y="980.7" width="41.6" height="12.6" rx="5"/><text class="nt" x="351.5" y="990.2">Jak1</text><ellipse class="ph" cx="330.7" cy="965.7" rx="9.5" ry="3.8"/><text class="ot" x="330.7" y="967.4">Y1008</text><ellipse class="ph" cx="372.3" cy="965.7" rx="9.5" ry="3.8"/><text class="ot" x="372.3" y="967.4">Y1007</text><ellipse class="ph" cx="330.7" cy="994.7" rx="9.5" ry="3.8"/><text class="ot" x="330.7" y="996.4">Y1035</text><ellipse class="ph" cx="372.3" cy="994.7" rx="9.5" ry="3.8"/><text class="ot" x="372.3" y="996.4">Y1034</text></g>
<g id="p3-stat1-cy"><rect class="n" x="256.7" y="1060" width="41" height="13.3" rx="5"/><text class="nt" x="277.5" y="1069.7">Stat1</text><ellipse class="ph" cx="256.7" cy="1059" rx="9" ry="3.8"/><text class="ot" x="256.7" y="1060.7">Y701</text></g>
<g id="p3-stat3-cy"><rect class="n" x="397.3" y="1059" width="41" height="13.3" rx="5"/><text class="nt" x="417.8" y="1068.7">Stat3</text><ellipse class="ph" cx="438.3" cy="1058.3" rx="9" ry="3.8"/><text class="ot" x="438.3" y="1060">Y705</text></g>
<g id="p3-stat1-nu"><rect class="n" x="256.7" y="1171.7" width="40.6" height="14" rx="5"/><text class="nt" x="277.5" y="1181.7">Stat1</text><ellipse class="ph" cx="256.7" cy="1172" rx="9" ry="3.8"/><text class="ot" x="256.7" y="1173.7">Y701</text></g>
<g id="p3-stat3-nu"><rect class="n" x="396.7" y="1171.7" width="41.6" height="14" rx="5"/><text class="nt" x="417.5" y="1181.7">Stat3</text><ellipse class="ph" cx="437.7" cy="1171.7" rx="9" ry="3.8"/><text class="ot" x="437.7" y="1173.4">Y705</text></g>
<g id="p3-smad"><polygon class="cx" points="37.3,1116.7 79,1116.7 84,1121.7 84,1146.7 79,1151.7 37.3,1151.7 32.3,1146.7 32.3,1121.7"/><rect class="n" x="37.3" y="1120.5" width="41" height="13" rx="5"/><text class="nt" x="57.8" y="1130.5">Smad2</text><rect class="n" x="37.3" y="1134" width="41" height="12.5" rx="5"/><text class="nt" x="57.8" y="1143.3">Smad3</text><ellipse class="ph" cx="37.3" cy="1120" rx="9.5" ry="3.6"/><text class="ot" x="37.3" y="1121.7">S465</text><ellipse class="ph" cx="79" cy="1120" rx="9.5" ry="3.6"/><text class="ot" x="79" y="1121.7">S467</text><ellipse class="ph" cx="37.3" cy="1147.3" rx="9.5" ry="3.6"/><text class="ot" x="37.3" y="1149">S425</text><ellipse class="ph" cx="79" cy="1147.3" rx="9.5" ry="3.6"/><text class="ot" x="79" y="1149">S423</text></g>
<g id="p3-smad67-box"><rect class="ob" x="35" y="1357.7" width="45.7" height="32.3" rx="4" style="stroke-width:2"/>
<rect class="bb" x="37.3" y="1359.7" width="41" height="14"/><text class="bt" x="57.8" y="1369.5">Smad6</text>
<rect class="bb" x="37.3" y="1373.7" width="41" height="14"/><text class="bt" x="57.8" y="1383.5">Smad7</text></g>
<g id="p3-big-box"><rect class="ob" x="113.3" y="1249.3" width="186.7" height="181.7" rx="5" style="fill:#e4f8ee"/>
<rect class="ob" x="128.3" y="1259.3" width="47.4" height="47.4" rx="4"/>
<rect class="rr" x="131.7" y="1262" width="41.6" height="13.7"/><text class="rt i" x="152.5" y="1271.6">Acta2</text>
<rect class="rr" x="131.7" y="1275.7" width="41.6" height="13.7"/><text class="rt i" x="152.5" y="1285.3">Col1a1</text>
<rect class="rr" x="131.7" y="1289.4" width="41.6" height="13.7"/><text class="rt" x="152.5" y="1299">Cxcl12</text>
<rect class="ob" x="194.3" y="1259.3" width="88.4" height="45.7" rx="4"/>
<rect class="rr" x="196" y="1261" width="41.3" height="13.7"/><text class="rt" x="216.7" y="1270.6">Mcm2</text>
<rect class="rr" x="196" y="1274.7" width="41.3" height="13.7"/><text class="rt" x="216.7" y="1284.3">Mcm3</text>
<rect class="rr" x="196" y="1288.4" width="41.3" height="13.7"/><text class="rt i" x="216.7" y="1298">Mcm4</text>
<rect class="rr" x="239.3" y="1261" width="41.4" height="13.7"/><text class="rt i" x="260" y="1270.6">Mcm5</text>
<rect class="rr" x="239.3" y="1274.7" width="41.4" height="13.7"/><text class="rt" x="260" y="1284.3">Mcm6</text>
<rect class="rr" x="239.3" y="1288.4" width="41.4" height="13.7"/><text class="rt" x="260" y="1298">Mcm7</text>
<text class="mg" x="204" y="1321" style="font-size:10px">Minichromosome</text>
<text class="mg" x="204" y="1332.5" style="font-size:10px">maintenance (MCM) proteins</text>
<text class="mg" x="204" y="1344" style="font-size:10px">invovled in DNA replication</text>
<rect class="ob" x="119" y="1351.7" width="176.7" height="74.3" rx="4"/>
<rect class="rr" x="121.7" y="1354.7" width="41" height="13.8"/><text class="rt" x="142.2" y="1364.3">Pcna</text>
<rect class="rr" x="121.7" y="1368.5" width="41" height="13.8"/><text class="rt" x="142.2" y="1378.1">Rac1</text>
<rect class="rr" x="121.7" y="1382.3" width="41" height="13.8"/><text class="rt" x="142.2" y="1391.9">Pole3</text>
<rect class="rr" x="121.7" y="1396.1" width="41" height="13.8"/><text class="rt" x="142.2" y="1405.7">Egfr</text>
<rect class="rr" x="165" y="1354.7" width="41" height="13.8"/><text class="rt" x="185.5" y="1364.3">Upf1</text>
<rect class="rr" x="165" y="1368.5" width="41" height="13.8"/><text class="rt" x="185.5" y="1378.1">Nasp</text>
<rect class="rr" x="165" y="1382.3" width="41" height="13.8"/><text class="rt" x="185.5" y="1391.9">Dhx9</text>
<rect class="rr" x="165" y="1396.1" width="41" height="13.8"/><text class="rt" x="185.5" y="1405.7">Pura</text>
<rect class="rr" x="208.3" y="1354.7" width="41" height="13.8"/><text class="rt" x="228.8" y="1364.3">Cacybp</text>
<rect class="bb" x="208.3" y="1368.5" width="41" height="13.8"/><text class="bt" x="228.8" y="1378.1">Rbbp4</text>
<rect class="rr" x="208.3" y="1382.3" width="41" height="13.8"/><text class="rt" x="228.8" y="1391.9">Nucks1</text>
<rect class="rr" x="208.3" y="1396.1" width="41" height="13.8"/><text class="rt" x="228.8" y="1405.7">Srpk2</text>
<rect class="bb" x="251.7" y="1354.7" width="41" height="13.8"/><text class="bt" x="272.2" y="1364.3">Npm1</text>
<rect class="rr" x="251.7" y="1368.5" width="41" height="13.8"/><text class="rt" x="272.2" y="1378.1">Orc1</text>
<rect class="rr" x="251.7" y="1382.3" width="41" height="13.8"/><text class="rt" x="272.2" y="1391.9">Orc2</text>
<rect class="rr" x="251.7" y="1396.1" width="41" height="13.8"/><text class="rt" x="272.2" y="1405.7">Samhd1</text>
<rect class="rr" x="133.3" y="1409.9" width="41.5" height="13.8"/><text class="rt" x="154" y="1419.5">Cdc42</text>
<rect class="rr" x="182.7" y="1409.9" width="41.5" height="13.8"/><text class="rt" x="203.4" y="1419.5" style="font-size:7.6px">Zmpste24</text>
<rect class="rr" x="232.3" y="1409.9" width="41.5" height="13.8"/><text class="rt" x="253" y="1419.5">Atrx</text></g>

<g id="p3-labels">
<text class="cyt" x="262.7" y="1088">CY</text><text class="cyt" x="265" y="1160">NU</text>
<text class="cyt" x="402.3" y="1087">CY</text><text class="cyt" x="404.3" y="1159">NU</text>
<path class="bc" d="M273.3,1186 C274,1200 344,1194 348.3,1212 C352,1194 423,1200 423.3,1186"/>
<text class="mg" x="354" y="1227.5" style="font-size:11.5px">STAT1/3 mediated</text>
<text class="mg" x="354" y="1241" style="font-size:11.5px">transcriptional</text>
<text class="mg" x="354" y="1254" style="font-size:11.5px">regulation</text>
<text class="red" x="130" y="1448" style="font-size:13.7px">IL-17A mediated pulmonary SMAD-</text>
<text class="red" x="130" y="1464" style="font-size:13.7px">dependent and non-dependent</text>
<text class="red" x="130" y="1480" style="font-size:13.7px">mechanism during acute</text>
<text class="red" x="130" y="1495.5" style="font-size:13.7px">lung injury in vivo</text>
</g>

<!-- ================= PANEL 4 NODES ================= -->
<g id="p4-il17a"><rect class="n" x="632.3" y="874.3" width="41.7" height="13.4" rx="5"/><text class="nt" x="653.2" y="884">IL-17A</text></g>
<g id="p4-receptor"><line class="ml" x1="653.3" y1="887.7" x2="653.3" y2="900.7"/><path class="cup" d="M646.5,906.7 A6.8,6.8 0 0 0 660.1,906.7"/><circle class="mag" cx="653.3" cy="906.7" r="6"/><line class="kl" x1="653.3" y1="913.5" x2="653.3" y2="924.3"/></g>
<g id="p4-il17ra"><rect class="n" x="632.3" y="924.3" width="41.7" height="13.4" rx="5"/><text class="nt" x="653.2" y="934">IL17RA</text></g>
<g id="p4-jak"><polygon class="cx" points="508.3,980 550,980 555,985 555,1011.7 550,1016.7 508.3,1016.7 503.3,1011.7 503.3,985"/><rect class="n" x="508.3" y="986.7" width="41.7" height="11.6" rx="1"/><text class="nt" x="529.2" y="995.6">Jak2</text><rect class="n" x="508.3" y="998.3" width="41.7" height="11.7" rx="1"/><text class="nt" x="529.2" y="1007.2">Jak1</text><ellipse class="ph" cx="509.3" cy="984.3" rx="9.5" ry="3.8"/><text class="ot" x="509.3" y="986">Y1007</text><ellipse class="ph" cx="550" cy="984.3" rx="9.5" ry="3.8"/><text class="ot" x="550" y="986">Y1008</text><ellipse class="ph" cx="509.3" cy="1011.7" rx="9.5" ry="3.8"/><text class="ot" x="509.3" y="1013.4">Y1034</text><ellipse class="ph" cx="550" cy="1011.7" rx="9.5" ry="3.8"/><text class="ot" x="550" y="1013.4">Y1035</text></g>
<g id="p4-mapk14"><rect class="n" x="561" y="1066" width="43" height="13.3" rx="5"/><text class="nt" x="582.5" y="1076">MAPK14</text><ellipse class="ph" cx="561" cy="1065" rx="8" ry="3.8"/><text class="ot" x="561" y="1066.7">T183</text><ellipse class="ph" cx="604" cy="1065" rx="8" ry="3.8"/><text class="ot" x="604" y="1066.7">Y185</text></g>
<g id="p4-mapk"><polygon class="cx" points="631.7,1051.7 673.3,1051.7 678.3,1056.7 678.3,1085 673.3,1090 631.7,1090 626.7,1085 626.7,1056.7"/><rect class="n" x="632.3" y="1057.3" width="41" height="13.4" rx="5"/><text class="nt" x="652.8" y="1067">MAPK1</text><rect class="n" x="632.3" y="1071.7" width="41" height="13.3" rx="5"/><text class="nt" x="652.8" y="1081.3">MAPK3</text><circle class="pp" cx="673.3" cy="1057.3" r="3.3"/><text class="pt" x="673.3" y="1058.9">P</text><circle class="pp" cx="673.3" cy="1084.3" r="3.3"/><text class="pt" x="673.3" y="1085.9">P</text></g>
<g id="p4-akt1"><rect class="n" x="738.3" y="1035.7" width="41" height="13.3" rx="5"/><text class="nt" x="758.8" y="1045.4">Akt1</text><circle class="pp" cx="779.3" cy="1049" r="3.3"/><text class="pt" x="779.3" y="1050.6">P</text></g>
<g id="p4-mtor"><rect class="n" x="760.7" y="1149" width="41" height="13.3" rx="5"/><text class="nt" x="781.2" y="1158.7">mTOR</text></g>
<g id="p4-p53"><rect class="n" x="632.3" y="1159" width="41" height="13.3" rx="5"/><text class="nt" x="652.8" y="1168.7">P53</text><circle class="pp" cx="673.3" cy="1159" r="3.3"/><text class="pt" x="673.3" y="1160.6">P</text></g>
<g id="p4-stat3"><rect class="n" x="509" y="1194" width="41" height="12.7" rx="5"/><text class="nt" x="529.5" y="1203.4">Stat3</text></g>
<g id="p4-parp1-box"><rect class="ob" x="620" y="1268.3" width="50" height="69.4" rx="4" style="stroke-width:2"/>
<rect class="rr" x="625.7" y="1276" width="41" height="13.7"/><text class="rt" x="646.2" y="1285.6">Parp1</text>
<rect class="rr" x="625.7" y="1289.7" width="41" height="13.7"/><text class="rt i" x="646.2" y="1299.3">Crebbp</text>
<rect class="bb" x="625.7" y="1303.4" width="41" height="13.7"/><text class="bt" x="646.2" y="1313">Plaur</text>
<rect class="bb" x="625.7" y="1317.1" width="41" height="13.7"/><text class="bt" x="646.2" y="1326.7">Plau</text></g>
<g id="p4-cxcl-box"><rect class="ob" x="699" y="1285" width="49.3" height="51.7" rx="4" style="stroke-width:2"/>
<rect class="rr" x="702.7" y="1290.5" width="41.6" height="13.7"/><text class="rt i" x="723.5" y="1300.1">Cxcl1</text>
<rect class="rr" x="702.7" y="1304.2" width="41.6" height="13.7"/><text class="rt i" x="723.5" y="1313.8">Cxcl12</text>
<rect class="rr" x="702.7" y="1317.9" width="41.6" height="13.7"/><text class="rt i" x="723.5" y="1327.5">Cxcl5</text></g>
<g id="p4-serpine-box"><rect class="ob" x="509.3" y="1339" width="50" height="36.7" rx="4" style="stroke-width:2"/>
<rect class="rr" x="514" y="1343" width="41.7" height="14"/><text class="rt" x="534.8" y="1352.8">Serpine1</text>
<rect class="rr" x="514" y="1357" width="41.7" height="14"/><text class="rt" x="534.8" y="1366.8">Casp3</text></g>

<g id="p4-labels">
<path class="bc" d="M641,1338 C642,1352 683,1347 687.3,1365 C691,1347 733,1352 734.3,1338"/>
<text x="684" y="1377.5" style="font-size:11.4px;fill:#ee22ee;text-anchor:middle">Inflammation, apoptosis,</text>
<text x="683.3" y="1390" style="font-size:11.4px;fill:#ee22ee;text-anchor:middle">and migration</text>
<text x="692.7" y="1410.5" style="font-size:12.3px;fill:#ee1144;text-anchor:middle">Bleomycin induced mice</text>
<text x="543.3" y="1400" style="font-size:11.4px;fill:#ee22ee;text-anchor:middle">Apoptosis and injury</text>
<text x="541.7" y="1428" style="font-size:12.3px;fill:#ee1144;text-anchor:middle">Alveolar basal</text>
<text x="541.7" y="1442" style="font-size:12.3px;fill:#ee1144;text-anchor:middle">epithelial A549 cells</text>
</g>

<!-- ================= PANEL 5 NODES ================= -->
<g id="p5-il17a"><rect class="n" x="969.3" y="853.3" width="41.4" height="13.4" rx="5"/><text class="nt" x="990" y="863">IL-17A</text></g>
<g id="p5-receptor"><line class="ml" x1="989" y1="866.7" x2="989" y2="879"/><path class="cup" d="M982.2,885 A6.8,6.8 0 0 0 995.8,885"/><circle class="mag" cx="989" cy="885" r="6"/><line class="kl" x1="989" y1="891.8" x2="989" y2="905.7"/></g>
<g id="p5-il17ra"><rect class="n" x="969" y="905.7" width="41" height="13.3" rx="5"/><text class="nt" x="989.5" y="915.4">IL17RA</text></g>
<g id="p5-nfkbia"><rect class="n" x="856" y="983.3" width="41.3" height="14" rx="5"/><text class="nt" x="876.7" y="993.3">NFKBIA</text><circle class="pp" cx="896.7" cy="982.7" r="3.3"/><text class="pt" x="896.7" y="984.3">P</text></g>
<g id="p5-nfkb1"><rect class="n" x="856" y="1064" width="41.3" height="13.3" rx="5"/><text class="nt" x="876.7" y="1073.7">NFKB1</text></g>
<g id="p5-muc5ac-box"><rect class="ob" x="851" y="1166" width="50.7" height="24" rx="4" style="stroke-width:2"/>
<rect class="rr" x="856" y="1171.5" width="42.3" height="13.7"/><text class="rt i" x="877.2" y="1181.1">MUC5AC</text></g>
<g id="p5-tgfb1-box"><rect class="ob" x="919.3" y="1206.7" width="53" height="50.6" rx="4" style="stroke-width:2"/>
<rect class="rr" x="925.7" y="1210.9" width="41.6" height="13.7"/><text class="rt" x="946.5" y="1220.5">TGFB1</text>
<rect class="rr" x="925.7" y="1224.6" width="41.6" height="13.7"/><text class="rt" x="946.5" y="1234.2">IL-10</text>
<rect class="rr" x="925.7" y="1238.3" width="41.6" height="13.7"/><text class="rt i" x="946.5" y="1247.9">ACTA2</text></g>
<g id="p5-csf3-box"><rect class="ob" x="1005" y="1044" width="50" height="49.3" rx="4" style="stroke-width:2"/>
<rect class="rr" x="1009.3" y="1047.5" width="41.7" height="13.7"/><text class="rt" x="1030.2" y="1057.1">CSF3</text>
<rect class="rr" x="1009.3" y="1061.2" width="41.7" height="13.7"/><text class="rt" x="1030.2" y="1070.8">CXCL1</text>
<rect class="rr" x="1009.3" y="1074.9" width="41.7" height="13.7"/><text class="rt" x="1030.2" y="1084.5">CCL2</text></g>
<g id="p5-gram"><rect x="956.7" y="1104.3" width="130.6" height="33.4" rx="6" fill="none" stroke="#333" stroke-width="1.5" stroke-dasharray="3 1.5"/><text x="1021.7" y="1120" style="font-size:11.4px;fill:#111;text-anchor:middle">Gram-negative bacterial</text><text x="1020.7" y="1132.5" style="font-size:11.4px;fill:#111;text-anchor:middle">pneumonia infection</text></g>
<g id="p5-vcan-box"><rect class="ob" x="1095" y="1068.3" width="50" height="159" rx="4" style="stroke-width:2"/>
<rect class="rr" x="1099.3" y="1072.5" width="41.4" height="13.77"/><text class="rt i" x="1120" y="1082.1">VCAN</text>
<rect class="rr" x="1099.3" y="1086.3" width="41.4" height="13.77"/><text class="rt i" x="1120" y="1095.9">HSPG2</text>
<rect class="rr" x="1099.3" y="1100" width="41.4" height="13.77"/><text class="rt i" x="1120" y="1109.6">ACTA2</text>
<rect class="rr" x="1099.3" y="1113.8" width="41.4" height="13.77"/><text class="rt i" x="1120" y="1123.4">COL3A1</text>
<rect class="rr" x="1099.3" y="1127.6" width="41.4" height="13.77"/><text class="rt i" x="1120" y="1137.2">COL5A2</text>
<rect class="rr" x="1099.3" y="1141.4" width="41.4" height="13.77"/><text class="rt" x="1120" y="1151">TNF</text>
<rect class="rr" x="1099.3" y="1155.1" width="41.4" height="13.77"/><text class="rt" x="1120" y="1164.7">IL-6</text>
<rect class="rr" x="1099.3" y="1168.9" width="41.4" height="13.77"/><text class="rt" x="1120" y="1178.5">IL-10</text>
<rect class="rr" x="1099.3" y="1182.7" width="41.4" height="13.77"/><text class="rt" x="1120" y="1192.3">IL-11</text>
<rect class="rr" x="1099.3" y="1196.5" width="41.4" height="13.77"/><text class="rt" x="1120" y="1206.1">LIF</text>
<rect class="rr" x="1099.3" y="1210.2" width="41.4" height="13.77"/><text class="rt" x="1120" y="1219.8">CXCL8</text></g>

<g id="p5-labels">
<text class="an" x="882.7" y="1026.5" style="font-size:8.3px">Dissociation</text>
<text class="red" x="877.7" y="1209" style="font-size:13.6px">Airway</text>
<text class="red" x="877.7" y="1225" style="font-size:13.6px">epithelial</text>
<text class="red" x="877.7" y="1240.5" style="font-size:13.6px">cells</text>
<text x="946" y="1270" style="font-size:10.5px;fill:#ee44ee;text-anchor:middle">Extracellular matrix</text>
<text x="946" y="1281.5" style="font-size:10.5px;fill:#ee44ee;text-anchor:middle">deposition and</text>
<text x="946" y="1294" style="font-size:10.5px;fill:#ee44ee;text-anchor:middle">neovascularization</text>
<text class="red" x="1022.3" y="1157.5" style="font-size:13.6px">Human</text>
<text class="red" x="1022.7" y="1173" style="font-size:13.6px">bronchial epithelial</text>
<text class="red" x="1024" y="1189" style="font-size:13.6px">(HBE) cells</text>
<text x="1110" y="1242.5" style="font-size:11.5px;fill:#ee22ee;text-anchor:middle">Proliferation of</text>
<text x="1054.3" y="1256" style="font-size:11.5px;fill:#ee22ee">asthmatic fibrocytes</text>
<text class="red" x="1116.7" y="1280.5" style="font-size:13.4px">Asthma</text>
</g>

<!-- ================= CONNECTORS ================= -->
<g id="connectors">
<!-- panel 1 -->
<path class="gr" d="M291,155 V164.3 H59 V514 H51 V530" marker-end="url(#ag)"/>
<path class="d" d="M291,155 V164.3 H173.3"/>
<path class="d" d="M130.7,164.3 V216.5" marker-end="url(#ab)"/>
<path class="d" d="M173.3,164.3 V318.5" marker-end="url(#ab)"/>
<path class="d" d="M301.7,155 V226" marker-end="url(#ab)"/>
<path class="d" d="M311.7,155 V164.3 H555 V515 H548.3 V530" marker-end="url(#aa)"/>
<path class="d" d="M481.7,164.3 V282.3" marker-end="url(#ab)"/>
<path class="d" d="M130.7,255.7 V387.3" marker-end="url(#ab)"/>
<path class="cy" d="M130.7,401 V492.7" marker-end="url(#ac)"/>
<path class="d" d="M130.7,506.7 V531.7 H122.3 V547" marker-end="url(#aa)"/>
<path class="d" d="M301.7,239.3 V248.3 M225.7,248.3 H370"/>
<path class="d" d="M225.7,248.3 V343.3" marker-end="url(#ab)"/>
<path class="d" d="M370,248.3 V358.3" marker-end="url(#ab)"/>
<path class="d" d="M225.7,357.3 V537.3 H216.7 V552" marker-end="url(#aa)"/>
<path class="d" d="M370,371.7 V440" marker-end="url(#ab)"/>
<path class="d" d="M370,453.3 V582.3 H362.7 V599" marker-end="url(#aa)"/>
<path class="d" d="M481.7,295.7 V355.7 M436.7,355.7 H525.7"/>
<line class="bar" x1="473.3" y1="324.3" x2="490" y2="324.3"/>
<path class="d" d="M436.7,355.7 V391.7" marker-end="url(#ab)"/>
<path class="d" d="M525.7,355.7 V392.3" marker-end="url(#ab)"/>
<path class="cy" d="M436.7,405 V496.7" marker-end="url(#ac)"/>
<!-- panel 2 -->
<path class="d" d="M866.7,152.3 V162.3 H688.3 V242.3" marker-end="url(#ab)"/>
<path class="dr" d="M866.7,162.3 V168.3 H740 V226.5"/>
<line x1="732.7" y1="226.7" x2="747" y2="226.7" stroke="#ff1a1a" stroke-width="2"/>
<path class="d" d="M866.7,162.3 V173.3 H779 V252.7" marker-end="url(#ab)"/>
<path class="d" d="M877,152.3 V155.7 H1105 V539 H1098 V551" marker-end="url(#aa)"/>
<path class="d" d="M1077.3,155.7 V190.7" marker-end="url(#ab)"/>
<path class="dol" d="M876.7,152.3 V175 H929 V186.7" marker-end="url(#ao)"/>
<path class="dol" d="M919,200 V219 H847.7 V240" marker-end="url(#ao)"/>
<path class="dol" d="M929,200 V378" marker-end="url(#ao)"/>
<path class="d" d="M939.3,200 V217.3 H1023.3 V528 H1016.7 V541" marker-end="url(#aa)"/>
<path class="dol" d="M847.7,252.7 V284.3" marker-end="url(#ao)"/>
<path class="dol" d="M847.7,298.3 V371" marker-end="url(#ao)"/>
<path class="dol" d="M847.7,347.7 H915.7 V378" marker-end="url(#ao)"/>
<path class="d" d="M847.7,385 V428.3 H1000 V528.3 H993.3 V541" marker-end="url(#aa)"/>
<path class="d" d="M688.3,276.7 V316.7" marker-end="url(#ab)"/>
<path class="d" d="M688.3,286.7 H788.3 V372.3" marker-end="url(#ab)"/>
<path class="d" d="M688.3,330 V379 M657,379 H722.3"/>
<line class="bar" x1="681" y1="355.7" x2="697.7" y2="355.7"/>
<path class="d" d="M657,379 V404" marker-end="url(#ab)"/>
<path class="d" d="M722.3,379 V404" marker-end="url(#ab)"/>
<path class="d" d="M722.3,417.7 V532.3 H715 V545" marker-end="url(#aa)"/>
<path class="d" d="M788.3,385.7 V445.7 H858.3 V497.3 H851 V510" marker-end="url(#aa)"/>
<!-- panel 3 -->
<path class="d" d="M196.7,887.7 V909 H67.7 V871.7" marker-end="url(#ab)"/>
<path class="d" d="M217.7,887.7 V911 H340.7 V861" marker-end="url(#ab)"/>
<path class="d" d="M207.3,887.7 V1240 H200 V1253" marker-end="url(#aa)"/>
<path class="d" d="M57.7,871.7 V1116.7" marker-end="url(#ab)"/>
<path class="d" d="M58.3,1151.7 V1349.3 H51 V1362" marker-end="url(#aa)"/>
<path class="d" d="M351,861 V961" marker-end="url(#ab)"/>
<path class="d" d="M351,1000 V1009 M276.7,1009 H417.7"/>
<path class="d" d="M276.7,1009 V1059.5" marker-end="url(#ab)"/>
<path class="d" d="M417.7,1009 V1059" marker-end="url(#ab)"/>
<path class="cy" d="M276.7,1073.3 V1171.7" marker-end="url(#ac)"/>
<path class="cy" d="M417.7,1072.3 V1171.7" marker-end="url(#ac)"/>
<!-- panel 4 -->
<path class="d" d="M641,937.7 V951 H529 V981" marker-end="url(#ab)"/>
<path class="d" d="M582.3,951 V1065" marker-end="url(#ab)"/>
<path class="d" d="M653.3,937.7 V1052" marker-end="url(#ab)"/>
<path class="dr" d="M665,937.7 V951 H759.3 V1032"/>
<line x1="751.7" y1="1032.3" x2="766.7" y2="1032.3" stroke="#ff1a1a" stroke-width="2"/>
<path class="d" d="M529,1016.7 V1194" marker-end="url(#ab)"/>
<path class="d" d="M653.3,1090 V1159" marker-end="url(#ab)"/>
<path class="d" d="M759.3,1049 V1124 M723.3,1124 H781"/>
<path class="d" d="M781,1124 V1149" marker-end="url(#ab)"/>
<path class="d" d="M723.3,1124 V1275.7 H716.7 V1291" marker-end="url(#aa)"/>
<path class="d" d="M653.3,1172.3 V1261.7 H645.7 V1277" marker-end="url(#aa)"/>
<path class="d" d="M653.3,1221 H535 V1334 H527.7 V1346" marker-end="url(#aa)"/>
<!-- panel 5 -->
<path class="d" d="M979.3,919 V928.3 H876.7 V983.3" marker-end="url(#ab)"/>
<path class="d" d="M946,928.3 V1197.3 H939 V1211" marker-end="url(#aa)"/>
<path class="d" d="M999.3,919 V928.3 H1120 V1058.3 H1113.3 V1072" marker-end="url(#aa)"/>
<path class="d" d="M1029.7,928.3 V1034 H1022.7 V1048" marker-end="url(#aa)"/>
<path class="d" d="M876.7,997.3 V1064" marker-end="url(#ab)"/>
<line x1="856" y1="1030.7" x2="899" y2="1030.7" stroke="#111" stroke-width="2.5"/>
<path class="d" d="M876.7,1077.3 V1155 H869 V1170" marker-end="url(#aa)"/>
</g>

<!-- ================= LEGEND ================= -->
<g id="legend">
<rect x="833.3" y="1306.7" width="340" height="200" fill="#fff" stroke="#111" stroke-width="3"/>
<text x="996.7" y="1321" style="font-size:14.6px;fill:#3344ee;text-anchor:middle">LEGEND</text>
<rect x="856.7" y="1326" width="30.6" height="12.7" fill="#fff" stroke="#777" stroke-width="1"/>
<text x="872" y="1335.3" style="font-size:8px;fill:#111;text-anchor:middle">Ligand</text>
<line x1="871.7" y1="1338.7" x2="871.7" y2="1349" stroke="#ff3399" stroke-width="1.5"/>
<circle cx="871.7" cy="1354.3" r="5.5" fill="#ff22aa"/>
<path d="M895,1328.3 Q895,1336.7 903.3,1336.7 Q911.7,1336.7 911.7,1328.3" fill="none" stroke="#111" stroke-width="1.5"/>
<line x1="903.3" y1="1336.7" x2="903.3" y2="1347.3" stroke="#111" stroke-width="1.5"/>
<rect x="883.3" y="1347.3" width="39" height="12" fill="#fff" stroke="#777" stroke-width="1"/>
<text x="902.8" y="1356.3" style="font-size:8px;fill:#111;text-anchor:middle">Receptor</text>
<rect x="916" y="1326" width="42.3" height="14" fill="#fff" stroke="#111" stroke-width="1.8"/>
<text x="937.2" y="1336.3" style="font-size:9px;fill:#111;text-anchor:middle">Protein</text>
<rect x="960.7" y="1326" width="43.6" height="14" fill="#fff" stroke="#111" stroke-width="1.8"/>
<text x="982.5" y="1336.3" style="font-size:9px;fill:#444;text-anchor:middle;font-style:italic;font-weight:normal">mRNA</text>
<rect x="1005.7" y="1326" width="59.3" height="14.7" fill="#fff" stroke="#ff6666" stroke-width="1.5"/>
<text x="1035.3" y="1336.3" style="font-size:8px;fill:#ff1a1a;text-anchor:middle">Gene/Protein</text>
<text class="lg" x="1069.3" y="1337.5">Upregulation</text>
<rect x="1005.7" y="1342.3" width="59.3" height="17" fill="#fff" stroke="#7766ee" stroke-width="1.3"/>
<text x="1035.3" y="1353.8" style="font-size:8px;fill:#3333cc;text-anchor:middle">Gene/Protein</text>
<text class="lg" x="1069.3" y="1354">Downregulation</text>
<rect x="855.7" y="1369.3" width="32.6" height="17.4" rx="4" fill="#dcf9ec" stroke="#333" stroke-width="1.2" stroke-dasharray="2 1.5"/>
<text class="lg" x="908.3" y="1381.5">IL-17A stimulation</text>
<rect x="855.7" y="1391" width="32.6" height="17.3" rx="4" fill="#d6f9fc" stroke="#333" stroke-width="1.2" stroke-dasharray="2 1.5"/>
<text class="lg" x="908.3" y="1398.5">Bleomycin induced</text>
<text class="lg" x="908.3" y="1408.5">IL-17A activation</text>
<rect x="1006" y="1369.3" width="39" height="13.4" rx="5" fill="#fff" stroke="#111" stroke-width="1.3"/>
<text x="1025.5" y="1379" style="font-size:8.5px;fill:#111;text-anchor:middle">Protein</text>
<circle cx="1045" cy="1368.3" r="3.5" fill="#fff" stroke="#888" stroke-width="0.8"/>
<text class="pt" x="1045" y="1370">P</text>
<text class="lg" x="1064.3" y="1379">Phosphorylation</text>
<line x1="1016.7" y1="1399.3" x2="1054" y2="1399.3" stroke="#22ccdd" stroke-width="1.2" stroke-dasharray="3 1.5" marker-end="url(#alc)"/>
<text class="lg" x="1069" y="1403">Translocation</text>
<line x1="851.7" y1="1427.7" x2="891.7" y2="1427.7" stroke="#111" stroke-width="2" marker-end="url(#alk)"/>
<text class="lg" x="910.7" y="1424.5">Leads to through</text>
<text class="lg" x="910.7" y="1436">multiple reactions</text>
<text x="1038.3" y="1423.5" style="font-size:9px;fill:#22ccdd;text-anchor:middle">PM</text>
<text x="1038.3" y="1437" style="font-size:9px;fill:#22ccdd;text-anchor:middle">CY</text>
<text x="1038.3" y="1449.5" style="font-size:9px;fill:#22ccdd;text-anchor:middle">NU</text>
<text x="1038.3" y="1462" style="font-size:9px;fill:#22ccdd;text-anchor:middle">EC</text>
<text class="lg" x="1064.3" y="1423.5">Plasma membrane</text>
<text class="lg" x="1064.3" y="1437">Cytoplasm</text>
<text class="lg" x="1064.3" y="1449.5">Nucleus</text>
<text class="lg" x="1064.3" y="1462">Extracellular</text>
<line x1="851.7" y1="1447.3" x2="889" y2="1447.3" stroke="#ee5577" stroke-width="1.5"/>
<line x1="889" y1="1441" x2="889" y2="1453.3" stroke="#ee3355" stroke-width="2.5"/>
<text class="lg" x="910.7" y="1452">Inhibition</text>
<path d="M857.3,1466 H880" fill="none" stroke="#111" stroke-width="1.2" stroke-dasharray="3 1.4"/>
<path d="M880,1466 V1471.7 H896" fill="none" stroke="#111" stroke-width="1.2" marker-end="url(#aa)"/>
<text class="lg" x="910.7" y="1474">Activation</text>
<line x1="852.7" y1="1487.7" x2="897.3" y2="1487.7" stroke="#aaaa22" stroke-width="2" marker-end="url(#alo)"/>
<text x="958.3" y="1488.5" style="font-size:9.1px;fill:#aaaa22;text-anchor:middle">Particulate matter (PM2.5)</text>
<text x="959" y="1498" style="font-size:9.1px;fill:#aaaa22;text-anchor:middle">stimulation</text>
<line x1="1020" y1="1482.7" x2="1065" y2="1482.7" stroke="#119933" stroke-width="2" marker-end="url(#alg)"/>
<text x="1110" y="1482" style="font-size:9px;fill:#449922;text-anchor:middle">Experimental silica</text>
<text x="1110" y="1492" style="font-size:9px;fill:#449922;text-anchor:middle">treatment in mice</text>
</g>
</svg>
